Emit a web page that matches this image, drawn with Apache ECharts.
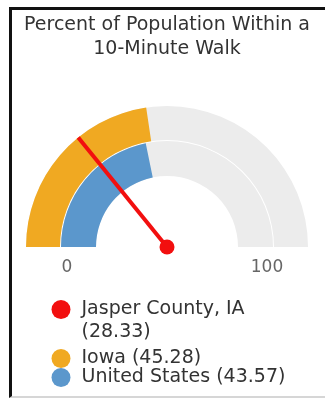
<!DOCTYPE html>
<html>
<head>
<meta charset="utf-8">
<script src="https://cdn.jsdelivr.net/npm/echarts@6/dist/echarts.min.js"></script>
<style>
  html, body { margin: 0; padding: 0; background: #fff; overflow: hidden; }
  #chart { position: absolute; left: 0; top: 0; width: 325px; height: 400px; }
  #frame {
    position: absolute; left: 9px; top: 7px; width: 400px; height: 391px;
    box-sizing: border-box; pointer-events: none;
    border-left: 3px solid #111; border-top: 3px solid #111;
    border-bottom: 2px solid #d6d6d6;
  }
</style>
</head>
<body>
<div id="chart"></div>
<div id="frame"></div>
<script>
// Chart data
const titleLines = ['Percent of Population Within a', '10-Minute Walk'];
const places = ['Jasper County, IA', 'Iowa', 'United States'];
const percents = [28.33, 45.28, 43.57];
const scaleMin = 0;
const scaleMax = 100;

// Styling
const RED = '#f20f0f';
const ORANGE = '#f0a922';
const BLUE = '#5b97cc';
const TRACK = '#ececec';
const FONT = 'DejaVu Sans';
const CX = 167, CY = 247;

const bare = {
  min: scaleMin, max: scaleMax,
  startAngle: 180, endAngle: 0,
  center: [CX, CY],
  axisTick: { show: false },
  splitLine: { show: false },
  axisLabel: { show: false },
  pointer: { show: false },
  anchor: { show: false },
  title: { show: false },
  detail: { show: false },
  silent: true
};

function ring(name, value, color, radius, width) {
  return Object.assign({}, bare, {
    type: 'gauge', name: name, radius: radius, z: 2,
    progress: { show: true, width: width, roundCap: false, itemStyle: { color: color } },
    axisLine: { show: true, roundCap: false, lineStyle: { width: width, color: [[1, TRACK]] } },
    data: [{ value: value, name: name }]
  });
}

const valueOf = {};
places.forEach((p, i) => { valueOf[p] = percents[i]; });

const legendText = { fontFamily: FONT, fontSize: 19, color: '#333', lineHeight: 23 };

function legendFor(name, color, top, padTop) {
  return {
    data: [{ name: name, icon: 'circle', itemStyle: { color: color } }],
    left: 51.5, top: top, padding: 0,
    itemWidth: 19, itemHeight: 19,
    selectedMode: false,
    // the first place wraps its value onto a second line
    formatter: n => n === places[0]
      ? '{t|' + n + '}\n{t|(' + valueOf[n] + ')}'
      : '{t|' + n + ' (' + valueOf[n] + ')}',
    textStyle: Object.assign({}, legendText, {
      padding: [padTop, 0, 0, 6],
      rich: { t: Object.assign({}, legendText) }
    })
  };
}

const option = {
  animation: false,
  title: {
    text: titleLines.join('\n'),
    left: 162, top: 8, textAlign: 'center',
    textStyle: { fontFamily: FONT, fontSize: 19, fontWeight: 'normal', color: '#333', lineHeight: 24 }
  },
  legend: [
    legendFor(places[0], RED, 275, 23),
    legendFor(places[1], ORANGE, 347, 0),
    legendFor(places[2], BLUE, 366, 0)
  ],
  series: [
    ring(places[1], percents[1], ORANGE, 141, 34),
    ring(places[2], percents[2], BLUE, 106, 35),
    // scale end labels, set below the baseline
    Object.assign({}, bare, {
      type: 'gauge', name: 'scale', radius: 120, z: 2,
      center: [CX, CY + 21],
      splitNumber: 1,
      axisLine: { show: false, lineStyle: { width: 0 } },
      splitLine: { show: false, length: 0, distance: 0 },
      axisLabel: {
        show: true, distance: 0,
        formatter: v => '{s|' + v + '}',
        rich: { s: { width: 40, align: 'center', fontFamily: FONT, fontSize: 17, color: '#666' } },
        fontFamily: FONT, fontSize: 17, color: '#666'
      },
      data: []
    }),
    // needle
    Object.assign({}, bare, {
      type: 'gauge', name: places[0], radius: 141, z: 10,
      axisLine: { show: false, lineStyle: { width: 0 } },
      pointer: { show: true, icon: 'rect', width: 4, length: '100%', itemStyle: { color: RED } },
      anchor: { show: true, showAbove: true, size: 15, itemStyle: { color: RED } },
      data: [{ value: percents[0], name: places[0] }]
    })
  ]
};

const chart = echarts.init(document.getElementById('chart'), null, { renderer: 'canvas' });
chart.setOption(option);
</script>
</body>
</html>
